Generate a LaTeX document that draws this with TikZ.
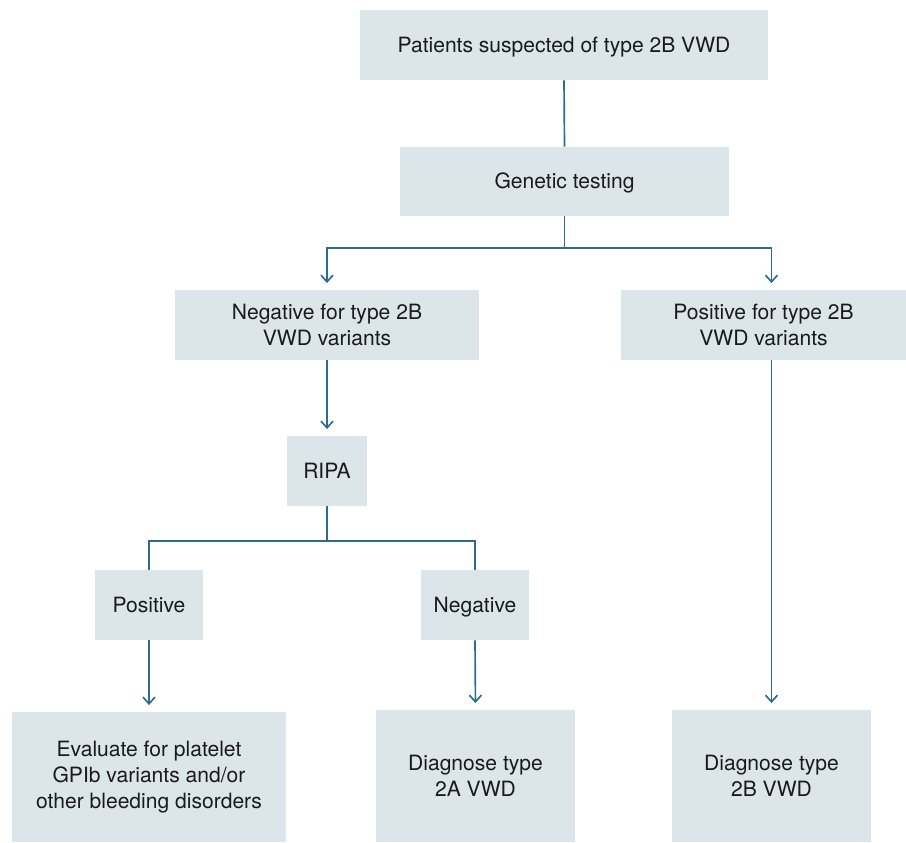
\documentclass[tikz,border=0pt]{standalone}
\usepackage{fontspec}
\setmainfont{TeX Gyre Heros}
\usepackage{tikz}
\usetikzlibrary{arrows.meta,positioning,calc}
\definecolor{boxfill}{HTML}{DCE6EA}
\definecolor{flowline}{HTML}{2D6B8F}
\definecolor{boxtext}{HTML}{1A1A1A}

\begin{document}
\begin{tikzpicture}[
    x=0.75pt, y=-0.75pt,
    stepbox/.style={fill=boxfill, text=boxtext, align=center, inner sep=0pt,
        font=\fontsize{15.8}{19.8}\selectfont},
    oneline/.style={text height=14.3pt, text depth=3.2pt},
    twoline/.style={text height=34.1pt, text depth=3.2pt},
    link/.style={draw=flowline, line width=1.25pt},
    flow/.style={link, -{Straight Barb[length=5pt,width=9pt,line width=1.25pt]}, shorten >=5pt}
]
    \useasboundingbox (0,0) rectangle (906,842);

    \node[stepbox, oneline, minimum width=306pt, minimum height=52.5pt] (suspect) at (564,45) {Patients suspected of type 2B VWD};
    \node[stepbox, oneline, minimum width=246.75pt, minimum height=51.75pt] (genetic) at (564.5,181.5) {Genetic testing};
    \node[stepbox, twoline, minimum width=228pt, minimum height=52.5pt] (negvar) at (327,325) {Negative for type 2B\\VWD variants};
    \node[stepbox, twoline, minimum width=213.75pt, minimum height=52.5pt] (posvar) at (763.5,325) {Positive for type 2B\\VWD variants};
    \node[stepbox, oneline, minimum width=60pt, minimum height=52.5pt] (ripa) at (327,471) {RIPA};
    \node[stepbox, oneline, minimum width=81pt, minimum height=52.5pt] (ripapos) at (149,605) {Positive};
    \node[stepbox, oneline, minimum width=81pt, minimum height=52.5pt] (ripaneg) at (475,605) {Negative};
    \node[stepbox, minimum width=205.5pt, minimum height=97.5pt] (evaluate) at (149,777) {Evaluate for platelet\\GPIb variants and/or\\other bleeding disorders};
    \node[stepbox, minimum width=149.25pt, minimum height=99pt] (diag2a) at (475.5,776) {Diagnose type\\2A VWD};
    \node[stepbox, minimum width=149.25pt, minimum height=99pt] (diag2b) at (771.5,776) {Diagnose type\\2B VWD};

    % top of the tree
    \draw[link] (suspect.south) -- (genetic.north);
    \draw[flow] (genetic.south) -- ++(0,32) -| (negvar.north);
    \draw[flow] (genetic.south) -- ++(0,32) -| (posvar.north -| diag2b.north);

    % negative branch
    \draw[flow] (negvar.south) -- (ripa.north);
    \draw[link] (ripa.south) -- ++(0,35) -| (ripapos.north);
    \draw[link] (ripa.south) -- ++(0,35) -| (ripaneg.north);
    \draw[flow] (ripapos.south) -- (evaluate.north);
    \draw[flow] (ripaneg.south) -- (diag2a.north);

    % positive branch
    \draw[flow] (posvar.south -| diag2b.north) -- (diag2b.north);
\end{tikzpicture}
\end{document}
